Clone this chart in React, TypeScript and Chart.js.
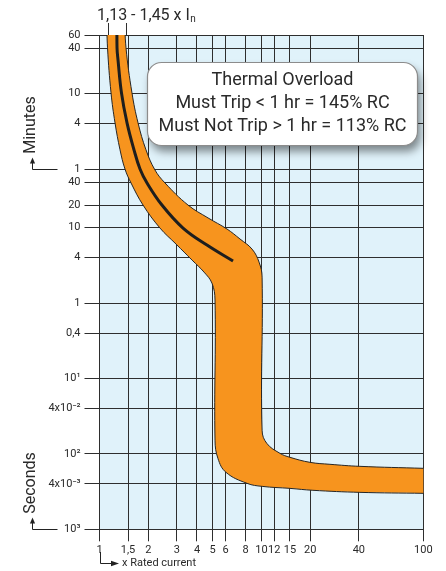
import React, { useEffect, useRef } from 'react';
import { Chart, registerables } from 'chart.js';

Chart.register(...registerables);

// ---- axis ticks ----
const X_TICKS = [1, 1.5, 2, 3, 4, 5, 6, 8, 10, 12, 15, 20, 40, 100];
const X_LABELS = ['1', '1,5', '2', '3', '4', '5', '6', '8', '10', '12', '15', '20', '40', '100'];
// time in seconds (top part labelled in minutes)
const Y_TICKS = [3600, 2400, 600, 240, 60, 40, 20, 10, 4, 1, 0.4, 0.1, 0.04, 0.01, 0.004, 0.001];
const Y_LABELS = ['60', '40', '10', '4', '1', '40', '20', '10', '4', '1', '0,4', '10¹', '4x10⁻²', '10²', '4x10⁻³', '10³'];

// ---- tripping band: lower/left boundary (top -> bottom right) ----
const LOW_X = [1.105, 1.121, 1.178, 1.247, 1.339, 1.437, 1.566, 1.857, 2.364, 2.97, 3.73, 4.42, 4.95, 5.17, 5.17, 5.39, 6.04, 8.15, 10.1, 15.0, 20.8, 40.6, 100, 140];
const LOW_T = [6680, 2435, 615, 246, 108, 60, 39.2, 20, 9.9, 6.07, 3.72, 2.58, 1.84, 1.1, 0.0152, 0.0087, 0.0057, 0.00407, 0.00371, 0.00349, 0.00329, 0.00309, 0.0030, 0.00298];
// ---- upper/right boundary (bottom right -> top) ----
const HIGH_X = [140, 100, 40.6, 26.5, 19.95, 15.0, 13.0, 10.8, 10.1, 10.1, 9.67, 8.75, 7.38, 6.13, 4.68, 3.52, 2.54, 2.2, 1.937, 1.73, 1.587, 1.458, 1.426];
const HIGH_T = [0.0063, 0.00644, 0.00684, 0.00728, 0.00773, 0.00902, 0.0102, 0.0138, 0.0206, 2.21, 3.5, 5.21, 7.08, 9.61, 13.5, 20, 39.2, 58.4, 108, 246, 615, 2435, 6680];
// ---- centre line ----
const MID_X = [1.283, 1.283, 1.301, 1.367, 1.479, 1.633, 1.779, 1.966, 2.43, 3.28, 4.61, 6.68];
const MID_T = [6680, 2435, 1687, 615, 246, 108, 60.2, 39.2, 20, 9.9, 5.89, 3.61];

const TRIP_MARKS = [1.13, 1.45];
const TOP_LABEL = '1,13 - 1,45 x I';
const TOP_SUB = 'n';
const BOX_LINES = ['Thermal Overload', 'Must Trip < 1 hr = 145% RC', 'Must Not Trip > 1 hr = 113% RC'];
const Y_TITLE_MIN = 'Minutes';
const Y_TITLE_SEC = 'Seconds';
const X_TITLE = 'x Rated current';

const FONT = 'Roboto, "Liberation Sans", Arial, sans-serif';
const GRID = '#2e2e2e';
const TEXT = '#2a2a2a';

const bgPlugin = {
  id: 'bgArea',
  beforeDraw(chart: any) {
    const { ctx, chartArea: a } = chart;
    ctx.save();
    ctx.fillStyle = '#E0F2FA';
    ctx.fillRect(a.left, a.top, a.right - a.left, a.bottom - a.top);
    ctx.restore();
  },
};

function upArrow(ctx: any, x: number, y: number, len: number, h: number) {
  ctx.beginPath();
  ctx.moveTo(x + len, y);
  ctx.lineTo(x, y);
  ctx.lineTo(x, y - h + 4);
  ctx.stroke();
  ctx.beginPath();
  ctx.moveTo(x, y - h);
  ctx.lineTo(x - 2.6, y - h + 6);
  ctx.lineTo(x + 2.6, y - h + 6);
  ctx.closePath();
  ctx.fill();
}

const decoPlugin = {
  id: 'deco',
  afterDraw(chart: any) {
    const { ctx, chartArea: a, scales } = chart;
    const xs = scales.x;
    const ys = scales.y;
    ctx.save();
    ctx.strokeStyle = GRID;
    ctx.fillStyle = TEXT;
    ctx.lineWidth = 1;

    // trip range marks above plot
    TRIP_MARKS.forEach((v) => {
      const px = Math.round(xs.getPixelForValue(v)) + 0.5;
      ctx.beginPath();
      ctx.moveTo(px, a.top - 12);
      ctx.lineTo(px, a.top);
      ctx.stroke();
    });

    // top label
    ctx.font = '16px ' + FONT;
    ctx.textAlign = 'left';
    ctx.textBaseline = 'alphabetic';
    ctx.fillText(TOP_LABEL, 97, 20);
    const w = ctx.measureText(TOP_LABEL).width;
    ctx.font = '10px ' + FONT;
    ctx.fillText(TOP_SUB, 97 + w + 0.5, 22);

    // info box
    const bx = 147.5, by = 62.5, bw = 270, bh = 83, br = 14;
    ctx.save();
    ctx.shadowColor = 'rgba(0,0,0,0.45)';
    ctx.shadowBlur = 9;
    ctx.shadowOffsetX = 3;
    ctx.shadowOffsetY = 6;
    ctx.beginPath();
    ctx.roundRect(bx, by, bw, bh, br);
    ctx.fillStyle = '#ffffff';
    ctx.fill();
    ctx.restore();
    ctx.strokeStyle = '#8c8c8c';
    ctx.lineWidth = 1.2;
    ctx.beginPath();
    ctx.roundRect(bx, by, bw, bh, br);
    ctx.stroke();
    ctx.fillStyle = TEXT;
    ctx.font = '18px ' + FONT;
    ctx.textAlign = 'center';
    BOX_LINES.forEach((t, i) => ctx.fillText(t, bx + bw / 2, 85 + i * 23));

    // y titles
    ctx.font = '16px ' + FONT;
    ctx.textBaseline = 'middle';
    ctx.save();
    ctx.translate(31, 125);
    ctx.rotate(-Math.PI / 2);
    ctx.fillText(Y_TITLE_MIN, 0, 0);
    ctx.restore();
    ctx.save();
    ctx.translate(31, 483);
    ctx.rotate(-Math.PI / 2);
    ctx.fillText(Y_TITLE_SEC, 0, 0);
    ctx.restore();

    ctx.strokeStyle = '#222';
    ctx.fillStyle = '#222';
    ctx.lineWidth = 1;
    const yMin = Math.round(ys.getPixelForValue(60)) + 0.5;
    upArrow(ctx, 32.5, yMin, 25, 12);
    const ySec = Math.round(ys.getPixelForValue(0.001)) + 0.5;
    upArrow(ctx, 32.5, ySec, 25, 12);

    // x title
    const x0 = Math.round(a.left) + 0.5;
    ctx.beginPath();
    ctx.moveTo(x0, 552);
    ctx.lineTo(x0, 563.5);
    ctx.lineTo(112, 563.5);
    ctx.stroke();
    ctx.beginPath();
    ctx.moveTo(119, 563.5);
    ctx.lineTo(111, 560.8);
    ctx.lineTo(111, 566.2);
    ctx.closePath();
    ctx.fill();
    ctx.fillStyle = TEXT;
    ctx.font = '11px ' + FONT;
    ctx.textAlign = 'left';
    ctx.textBaseline = 'middle';
    ctx.fillText(X_TITLE, 122, 563.5);

    ctx.restore();
  },
};

export default function App() {
  const ref = useRef<HTMLCanvasElement>(null);

  useEffect(() => {
    if (!ref.current) return;
    const band = [
      ...LOW_X.map((x, i) => ({ x, y: LOW_T[i] })),
      ...HIGH_X.map((x, i) => ({ x, y: HIGH_T[i] })),
    ];
    const mid = MID_X.map((x, i) => ({ x, y: MID_T[i] }));

    const chart = new Chart(ref.current, {
      type: 'line',
      data: {
        datasets: [
          {
            data: mid,
            fill: false,
            borderColor: '#1e1e1e',
            borderWidth: 3,
            pointRadius: 0,
            tension: 0.4,
            order: 1,
          },
          {
            data: band,
            fill: 'shape',
            backgroundColor: '#F7941E',
            borderColor: '#262626',
            borderWidth: 1,
            pointRadius: 0,
            tension: 0.4,
            order: 2,
          },
        ],
      },
      options: {
        animation: false,
        responsive: false,
        events: [],
        layout: { padding: { left: 0, right: 22.7, top: 35, bottom: 0 } },
        plugins: {
          legend: { display: false },
          tooltip: { enabled: false },
          title: { display: false },
        },
        scales: {
          x: {
            type: 'logarithmic',
            min: 1,
            max: 100,
            afterBuildTicks: (s: any) => {
              s.ticks = X_TICKS.map((v) => ({ value: v }));
            },
            afterFit: (s: any) => {
              s.height = 41.7;
            },
            ticks: {
              autoSkip: false,
              maxRotation: 0,
              minRotation: 0,
              padding: 2,
              color: TEXT,
              font: { family: FONT, size: 11 },
              callback: (_v: any, i: number) => X_LABELS[i],
            },
            grid: { color: GRID, lineWidth: 1, tickLength: 12, drawTicks: true },
            border: { color: GRID, width: 1 },
          },
          y: {
            type: 'logarithmic',
            min: 0.001,
            max: 3600,
            afterBuildTicks: (s: any) => {
              s.ticks = Y_TICKS.map((v) => ({ value: v }));
            },
            afterFit: (s: any) => {
              s.width = 99.5;
            },
            ticks: {
              autoSkip: false,
              padding: 4,
              color: TEXT,
              font: { family: FONT, size: 11 },
              callback: (_v: any, i: number) => Y_LABELS[i],
            },
            grid: { color: GRID, lineWidth: 1, tickLength: 15, drawTicks: true },
            border: { color: GRID, width: 1 },
          },
        },
      } as any,
      plugins: [bgPlugin, decoPlugin],
    });
    return () => chart.destroy();
  }, []);

  return (
    <div style={{ position: 'absolute', left: 0, top: 0, width: 446, height: 571, background: '#fff' }}>
      <canvas ref={ref} width={446} height={571} style={{ display: 'block' }} />
    </div>
  );
}
